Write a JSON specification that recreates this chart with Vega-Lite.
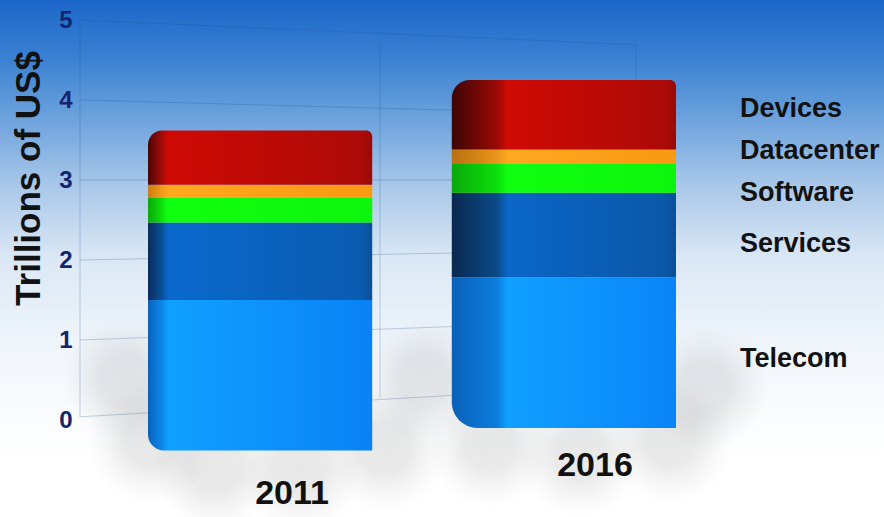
{
  "$schema": "https://vega.github.io/schema/vega-lite/v6.json",
  "width": 884,
  "height": 517,
  "padding": 0,
  "autosize": {"type": "none"},
  "view": {
    "stroke": null,
    "fill": {
      "gradient": "linear", "x1": 0, "y1": 0, "x2": 0, "y2": 1,
      "stops": [
        {"offset": 0, "color": "#1b66c9"},
        {"offset": 0.12, "color": "#3d83d3"},
        {"offset": 0.2, "color": "#5f9ada"},
        {"offset": 0.35, "color": "#a5c5e8"},
        {"offset": 0.5, "color": "#dbe8f5"},
        {"offset": 0.68, "color": "#f1f6fb"},
        {"offset": 0.88, "color": "#ffffff"},
        {"offset": 1, "color": "#ffffff"}
      ]
    }
  },
  "datasets": {
    "stack": [
      {"year": "2011", "segment": "Telecom", "low": -0.38, "high": 1.5},
      {"year": "2011", "segment": "Services", "low": 1.5, "high": 2.47},
      {"year": "2011", "segment": "Software", "low": 2.47, "high": 2.78},
      {"year": "2011", "segment": "Datacenter", "low": 2.78, "high": 2.94},
      {"year": "2011", "segment": "Devices", "low": 2.94, "high": 3.62},
      {"year": "2016", "segment": "Telecom", "low": -0.1, "high": 1.78},
      {"year": "2016", "segment": "Services", "low": 1.78, "high": 2.84},
      {"year": "2016", "segment": "Software", "low": 2.84, "high": 3.2},
      {"year": "2016", "segment": "Datacenter", "low": 3.2, "high": 3.38},
      {"year": "2016", "segment": "Devices", "low": 3.38, "high": 4.25}
    ],
    "wall": [
      {"level": 5, "far": 4.69},
      {"level": 4, "far": 3.81},
      {"level": 3, "far": 3.0},
      {"level": 2, "far": 2.13},
      {"level": 1, "far": 1.25},
      {"level": 0.04, "far": 0.44}
    ],
    "floorShadow": [
      {"across": 125, "depth": 0.5},
      {"across": 150, "depth": -0.25},
      {"across": 215, "depth": -0.6},
      {"across": 300, "depth": -0.6},
      {"across": 385, "depth": -0.35},
      {"across": 425, "depth": 0.5},
      {"across": 490, "depth": -0.3},
      {"across": 580, "depth": -0.42},
      {"across": 670, "depth": -0.25},
      {"across": 705, "depth": 0.4}
    ],
    "segmentNames": [
      {"segment": "Devices", "at": 3.89},
      {"segment": "Datacenter", "at": 3.365},
      {"segment": "Software", "at": 2.835},
      {"segment": "Services", "at": 2.195},
      {"segment": "Telecom", "at": 0.765}
    ],
    "yearNames": [
      {"year": "2011", "at": -0.92},
      {"year": "2016", "at": -0.57}
    ]
  },
  "resolve": {"scale": {"x": "independent"}},
  "layer": [
    {
      "description": "Soft floor shadows behind each column",
      "data": {"name": "floorShadow"},
      "mark": {"type": "circle", "size": 16000, "opacity": 1, "fill": {"gradient": "radial", "x1": 0.5, "y1": 0.5, "r1": 0, "x2": 0.5, "y2": 0.5, "r2": 0.5,
        "stops": [{"offset": 0, "color": "rgba(140,140,140,0.2)"}, {"offset": 0.4, "color": "rgba(140,140,140,0.19)"}, {"offset": 1, "color": "rgba(180,180,180,0)"}]}},
      "encoding": {
        "x": {"field": "across", "type": "quantitative", "axis": null, "scale": {"domain": [0, 884], "nice": false, "zero": false}},
        "y": {"field": "depth", "type": "quantitative", "scale": {"domain": [-1.2125, 5.25], "nice": false, "zero": false},
          "axis": {"title": "Trillions of US$", "orient": "left", "offset": -80, "values": [0, 1, 2, 3, 4, 5], "format": "d", "domain": false, "ticks": false, "grid": false,
            "labelFont": "Liberation Sans", "labelFontWeight": "bold", "labelFontSize": 24, "labelColor": "#14246e", "labelPadding": 8,
            "titleFont": "Liberation Sans", "titleFontWeight": "bold", "titleFontSize": 35, "titleColor": "#111111", "titleX": -52, "titleY": 178, "titleAngle": -90, "titleAlign": "center", "titleBaseline": "middle"}}
      }
    },
    {
      "description": "Receding gridlines on the back wall",
      "data": {"name": "wall"},
      "mark": {"type": "rule", "color": "#1f4f8f", "opacity": 0.25, "strokeWidth": 1},
      "encoding": {
        "x": {"datum": 80, "type": "quantitative", "axis": null, "scale": {"domain": [0, 884], "nice": false, "zero": false}},
        "x2": {"datum": 636},
        "y": {"field": "level", "type": "quantitative"},
        "y2": {"field": "far"}
      }
    },
    {
      "data": {"values": [{"top": 5, "bottom": 0.04}]},
      "mark": {"type": "rule", "color": "#1f4f8f", "opacity": 0.25},
      "encoding": {
        "x": {"datum": 80, "type": "quantitative", "axis": null, "scale": {"domain": [0, 884], "nice": false, "zero": false}},
        "y": {"field": "top", "type": "quantitative"},
        "y2": {"field": "bottom"}
      }
    },
    {
      "data": {"values": [{"top": 4.72, "bottom": 0.28}]},
      "mark": {"type": "rule", "color": "#1f4f8f", "opacity": 0.25},
      "encoding": {
        "x": {"datum": 380, "type": "quantitative", "axis": null, "scale": {"domain": [0, 884], "nice": false, "zero": false}},
        "y": {"field": "top", "type": "quantitative"},
        "y2": {"field": "bottom"}
      }
    },
    {
      "data": {"values": [{"top": 4.69, "bottom": 0.44}]},
      "mark": {"type": "rule", "color": "#1f4f8f", "opacity": 0.25},
      "encoding": {
        "x": {"datum": 636, "type": "quantitative", "axis": null, "scale": {"domain": [0, 884], "nice": false, "zero": false}},
        "y": {"field": "top", "type": "quantitative"},
        "y2": {"field": "bottom"}
      }
    },
    {
      "description": "The two stacked columns, shaded across their width",
      "data": {"name": "stack"},
      "encoding": {
        "x": {"field": "year", "type": "nominal", "axis": null, "scale": {"domain": ["2011", "2016"], "range": [148, 676], "paddingInner": 0.262, "paddingOuter": 0}},
        "y": {"field": "low", "type": "quantitative"},
        "y2": {"field": "high"}
      },
      "layer": [
        {"transform": [{"filter": "datum.year == '2011' && datum.segment == 'Telecom'"}],
         "mark": {"type": "bar", "cornerRadiusBottomLeft": 16, "fill": {"gradient": "linear", "x1": 0, "y1": 0, "x2": 1, "y2": 0, "stops": [{"offset": 0, "color": "#0a62bd"}, {"offset": 0.06, "color": "#0b86e6"}, {"offset": 0.09, "color": "#10a0ff"}, {"offset": 1, "color": "#0a82f5"}]}}},
        {"transform": [{"filter": "datum.year == '2011' && datum.segment == 'Services'"}],
         "mark": {"type": "bar", "fill": {"gradient": "linear", "x1": 0, "y1": 0, "x2": 1, "y2": 0, "stops": [{"offset": 0, "color": "#0a2c5c"}, {"offset": 0.06, "color": "#0a4f96"}, {"offset": 0.09, "color": "#0a68cc"}, {"offset": 0.95, "color": "#0a5cb0"}, {"offset": 1, "color": "#0a5098"}]}}},
        {"transform": [{"filter": "datum.year == '2011' && datum.segment == 'Software'"}],
         "mark": {"type": "bar", "fill": {"gradient": "linear", "x1": 0, "y1": 0, "x2": 1, "y2": 0, "stops": [{"offset": 0, "color": "#0aa80a"}, {"offset": 0.06, "color": "#0be00b"}, {"offset": 0.09, "color": "#10ff10"}, {"offset": 1, "color": "#0cf50c"}]}}},
        {"transform": [{"filter": "datum.year == '2011' && datum.segment == 'Datacenter'"}],
         "mark": {"type": "bar", "fill": {"gradient": "linear", "x1": 0, "y1": 0, "x2": 1, "y2": 0, "stops": [{"offset": 0, "color": "#c87c12"}, {"offset": 0.06, "color": "#f09a18"}, {"offset": 0.09, "color": "#ffa820"}, {"offset": 1, "color": "#f89a12"}]}}},
        {"transform": [{"filter": "datum.year == '2011' && datum.segment == 'Devices'"}],
         "mark": {"type": "bar", "cornerRadiusTopLeft": 14, "cornerRadiusTopRight": 6, "fill": {"gradient": "linear", "x1": 0, "y1": 0, "x2": 1, "y2": 0, "stops": [{"offset": 0, "color": "#4a0606"}, {"offset": 0.06, "color": "#a00a06"}, {"offset": 0.09, "color": "#d00a05"}, {"offset": 0.95, "color": "#ac0a08"}, {"offset": 1, "color": "#980a08"}]}}},
        {"transform": [{"filter": "datum.year == '2016' && datum.segment == 'Telecom'"}],
         "mark": {"type": "bar", "cornerRadiusBottomLeft": 26, "fill": {"gradient": "linear", "x1": 0, "y1": 0, "x2": 1, "y2": 0, "stops": [{"offset": 0, "color": "#0a60b8"}, {"offset": 0.2, "color": "#0b7cdc"}, {"offset": 0.25, "color": "#10a0ff"}, {"offset": 1, "color": "#0a84f8"}]}}},
        {"transform": [{"filter": "datum.year == '2016' && datum.segment == 'Services'"}],
         "mark": {"type": "bar", "fill": {"gradient": "linear", "x1": 0, "y1": 0, "x2": 1, "y2": 0, "stops": [{"offset": 0, "color": "#0a2850"}, {"offset": 0.2, "color": "#0a4a88"}, {"offset": 0.25, "color": "#0a66c8"}, {"offset": 0.95, "color": "#0a58a8"}, {"offset": 1, "color": "#0a4f98"}]}}},
        {"transform": [{"filter": "datum.year == '2016' && datum.segment == 'Software'"}],
         "mark": {"type": "bar", "fill": {"gradient": "linear", "x1": 0, "y1": 0, "x2": 1, "y2": 0, "stops": [{"offset": 0, "color": "#0aa80a"}, {"offset": 0.2, "color": "#0be00b"}, {"offset": 0.25, "color": "#10ff10"}, {"offset": 1, "color": "#0cf50c"}]}}},
        {"transform": [{"filter": "datum.year == '2016' && datum.segment == 'Datacenter'"}],
         "mark": {"type": "bar", "fill": {"gradient": "linear", "x1": 0, "y1": 0, "x2": 1, "y2": 0, "stops": [{"offset": 0, "color": "#b87010"}, {"offset": 0.2, "color": "#e89418"}, {"offset": 0.25, "color": "#ffa820"}, {"offset": 1, "color": "#f89a12"}]}}},
        {"transform": [{"filter": "datum.year == '2016' && datum.segment == 'Devices'"}],
         "mark": {"type": "bar", "cornerRadiusTopLeft": 18, "cornerRadiusTopRight": 6, "fill": {"gradient": "linear", "x1": 0, "y1": 0, "x2": 1, "y2": 0, "stops": [{"offset": 0, "color": "#3c0505"}, {"offset": 0.2, "color": "#9a0a06"}, {"offset": 0.25, "color": "#d00a05"}, {"offset": 0.95, "color": "#ac0a08"}, {"offset": 1, "color": "#980a08"}]}}}
      ]
    },
    {
      "description": "Segment names to the right of the columns",
      "data": {"name": "segmentNames"},
      "mark": {"type": "text", "align": "left", "baseline": "middle", "font": "Liberation Sans", "fontWeight": "bold", "fontSize": 27, "color": "#111111"},
      "encoding": {
        "x": {"datum": 740, "type": "quantitative", "axis": null, "scale": {"domain": [0, 884], "nice": false, "zero": false}},
        "y": {"field": "at", "type": "quantitative"},
        "text": {"field": "segment"}
      }
    },
    {
      "description": "Year captions under each column",
      "data": {"name": "yearNames"},
      "transform": [{"filter": "datum.year == '2011'"}],
      "mark": {"type": "text", "align": "center", "baseline": "middle", "dx": 12, "font": "Liberation Sans", "fontWeight": "bold", "fontSize": 34, "color": "#111111"},
      "encoding": {
        "x": {"field": "year", "type": "nominal", "axis": null, "scale": {"domain": ["2011", "2016"], "range": [148, 676], "paddingInner": 0.262, "paddingOuter": 0}},
        "y": {"field": "at", "type": "quantitative"},
        "text": {"field": "year"}
      }
    },
    {
      "data": {"name": "yearNames"},
      "transform": [{"filter": "datum.year == '2016'"}],
      "mark": {"type": "text", "align": "center", "baseline": "middle", "dx": 51, "font": "Liberation Sans", "fontWeight": "bold", "fontSize": 34, "color": "#111111"},
      "encoding": {
        "x": {"field": "year", "type": "nominal", "axis": null, "scale": {"domain": ["2011", "2016"], "range": [148, 676], "paddingInner": 0.262, "paddingOuter": 0}},
        "y": {"field": "at", "type": "quantitative"},
        "text": {"field": "year"}
      }
    }
  ]
}
